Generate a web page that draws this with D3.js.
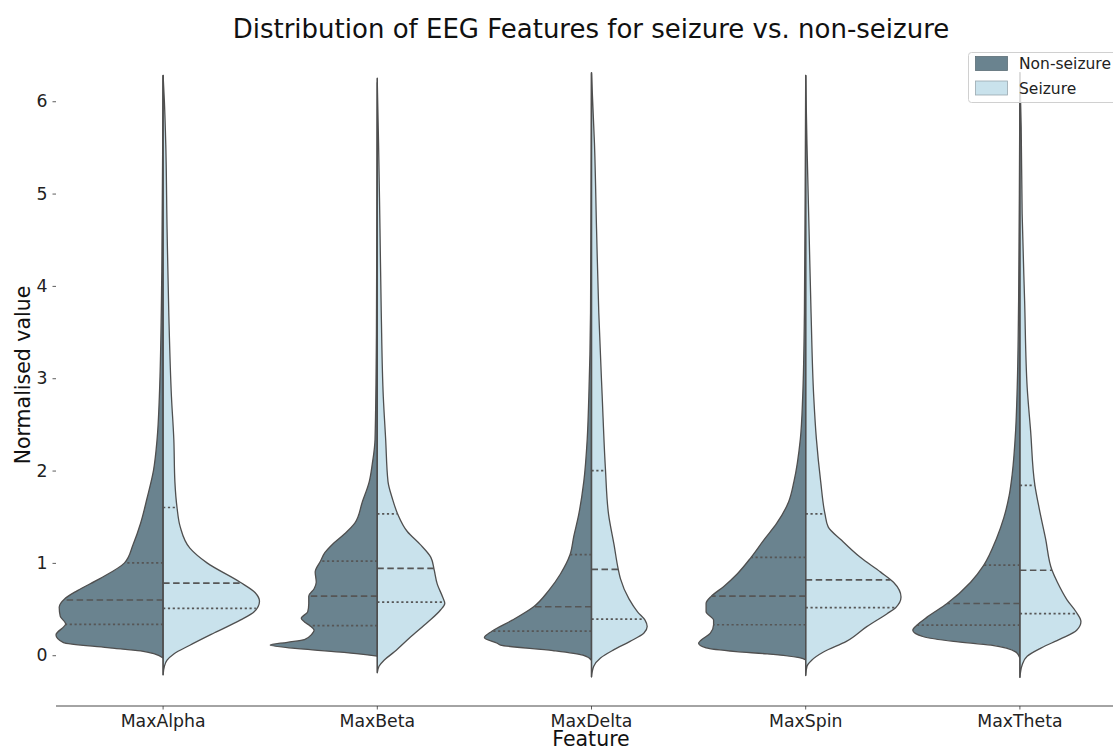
<!DOCTYPE html>
<html>
<head>
<meta charset="utf-8">
<script src="https://cdn.jsdelivr.net/npm/d3@7"></script>
<style>
  html, body { margin: 0; padding: 0; background: #fff; }
  svg { display: block; font-family: "DejaVu Sans", sans-serif; }
</style>
</head>
<body>
<svg id="chart" width="1113" height="749"></svg>
<script>
// Features on the x axis
const features = ["MaxAlpha", "MaxBeta", "MaxDelta", "MaxSpin", "MaxTheta"];
const groups = ["Non-seizure", "Seizure"];
const yTicks = [0, 1, 2, 3, 4, 5, 6];

// Kernel density profiles: [normalised value, relative density] (1 = widest half-violin)
const alphaNonSeizure = [[-0.03,0],[0.014,0.08],[0.046,0.21],[0.082,0.52],[0.137,0.93],[0.22,1.0],[0.34,0.91],[0.42,0.96],[0.52,0.97],[0.61,0.92],[0.70,0.80],[0.83,0.59],[1.0,0.36],[1.2,0.28],[1.43,0.21],[1.7,0.15],[2.0,0.09],[2.34,0.056],[2.8,0.035],[4.16,0.012],[5.5,0.004],[6.28,0]];
const alphaSeizure = [[-0.213,0],[-0.12,0.012],[-0.054,0.037],[0.014,0.10],[0.108,0.25],[0.243,0.48],[0.38,0.72],[0.47,0.85],[0.585,0.90],[0.676,0.86],[0.79,0.72],[1.0,0.41],[1.16,0.25],[1.39,0.16],[1.6,0.13],[1.88,0.11],[2.34,0.10],[2.8,0.078],[3.71,0.053],[4.62,0.037],[5.53,0.025],[6.0,0.012],[6.28,0]];
const betaNonSeizure = [[-0.01,0],[0.03,0.31],[0.065,0.68],[0.11,1.0],[0.14,0.84],[0.17,0.68],[0.23,0.61],[0.27,0.59],[0.32,0.63],[0.36,0.68],[0.40,0.71],[0.47,0.65],[0.56,0.64],[0.64,0.64],[0.72,0.59],[0.79,0.57],[0.90,0.58],[1.02,0.53],[1.11,0.49],[1.20,0.42],[1.31,0.31],[1.43,0.21],[1.66,0.14],[1.88,0.075],[2.07,0.047],[2.34,0.021],[3.5,0.008],[6.25,0]];
const betaSeizure = [[-0.19,0],[-0.12,0.016],[-0.054,0.063],[0.037,0.16],[0.197,0.31],[0.357,0.47],[0.49,0.59],[0.56,0.63],[0.63,0.61],[0.77,0.56],[0.93,0.53],[1.06,0.50],[1.20,0.40],[1.34,0.28],[1.53,0.19],[1.70,0.14],[1.88,0.10],[2.34,0.078],[2.8,0.056],[3.71,0.037],[4.62,0.025],[5.53,0.012],[6.2,0]];
const deltaNonSeizure = [[-0.054,0],[0.0,0.08],[0.05,0.36],[0.11,0.85],[0.13,0.88],[0.19,1.0],[0.26,0.93],[0.38,0.74],[0.525,0.54],[0.70,0.40],[0.88,0.29],[1.09,0.20],[1.29,0.165],[1.52,0.12],[1.88,0.072],[2.34,0.04],[2.8,0.025],[3.71,0.009],[5.0,0.004],[6.31,0]];
const deltaSeizure = [[-0.236,0],[-0.12,0.021],[-0.03,0.084],[0.06,0.21],[0.15,0.36],[0.24,0.49],[0.31,0.52],[0.38,0.50],[0.47,0.43],[0.61,0.35],[0.83,0.27],[0.93,0.25],[1.20,0.21],[1.52,0.16],[2.02,0.13],[2.8,0.10],[3.71,0.068],[4.62,0.047],[5.53,0.028],[6.3,0]];
const spinNonSeizure = [[-0.05,0],[-0.03,0.05],[0.014,0.36],[0.04,0.65],[0.08,0.93],[0.13,1.0],[0.16,0.98],[0.24,0.89],[0.33,0.86],[0.38,0.86],[0.47,0.93],[0.56,0.93],[0.64,0.88],[0.74,0.77],[0.88,0.64],[1.06,0.51],[1.25,0.39],[1.43,0.27],[1.66,0.16],[1.88,0.11],[2.34,0.05],[2.8,0.028],[3.71,0.012],[5.0,0.005],[6.28,0]];
const spinSeizure = [[-0.22,0],[-0.12,0.012],[-0.054,0.056],[0.037,0.17],[0.15,0.38],[0.31,0.57],[0.45,0.76],[0.515,0.84],[0.63,0.89],[0.79,0.82],[0.90,0.70],[1.06,0.51],[1.25,0.33],[1.39,0.21],[1.53,0.18],[1.88,0.14],[2.34,0.10],[2.8,0.075],[3.71,0.05],[4.62,0.031],[5.53,0.012],[6.28,0]];
const thetaNonSeizure = [[-0.03,0],[0.036,0.04],[0.11,0.27],[0.15,0.62],[0.20,0.90],[0.27,1.0],[0.327,0.96],[0.41,0.87],[0.56,0.68],[0.79,0.46],[0.97,0.34],[1.26,0.22],[1.49,0.15],[1.73,0.10],[1.96,0.072],[2.43,0.04],[2.9,0.025],[3.84,0.012],[5.0,0.005],[6.31,0]];
const thetaSeizure = [[-0.24,0],[-0.105,0.021],[-0.01,0.068],[0.08,0.20],[0.177,0.38],[0.27,0.53],[0.365,0.57],[0.46,0.53],[0.60,0.44],[0.79,0.35],[0.92,0.30],[1.26,0.24],[1.59,0.18],[1.84,0.14],[2.43,0.10],[2.9,0.068],[3.84,0.044],[4.78,0.021],[5.72,0.012],[6.31,0]];

// Quartiles per feature: [Q1, median, Q3]
const nonSeizureQuartiles = [[0.334,0.598,1.0],[0.32,0.64,1.02],[0.26,0.525,1.09],[0.33,0.64,1.06],[0.327,0.56,0.975]];
const seizureQuartiles = [[0.507,0.78,1.60],[0.575,0.94,1.53],[0.39,0.93,2.0],[0.515,0.817,1.53],[0.45,0.92,1.84]];

const nonSeizureDensity = [alphaNonSeizure, betaNonSeizure, deltaNonSeizure, spinNonSeizure, thetaNonSeizure];
const seizureDensity = [alphaSeizure, betaSeizure, deltaSeizure, spinSeizure, thetaSeizure];

const colors = { "Non-seizure": "#6a838f", "Seizure": "#c9e2ec" };
const edge = "#4f4f4f";

const svg = d3.select("#chart");

const x = d3.scaleBand().domain(features).range([56, 56 + 5 * 214.2]).padding(0);
const y = d3.scaleLinear().domain([-0.55, 6.6]).range([706, 706 - 7.15 * 92.33]);
const w = d3.scaleLinear().domain([0, 1]).range([0, x.bandwidth() / 2]);

// Linear lookup of the density at a given value
function densityAt(profile, v) {
  for (let i = 1; i < profile.length; i++) {
    const [v0, d0] = profile[i - 1], [v1, d1] = profile[i];
    if (v >= v0 && v <= v1) return d0 + (d1 - d0) * (v - v0) / (v1 - v0);
  }
  return 0;
}

const plot = svg.append("g");

features.forEach((f, i) => {
  const cx = x(f) + x.bandwidth() / 2;
  const halves = [
    { g: "Non-seizure", dens: nonSeizureDensity[i], q: nonSeizureQuartiles[i], dir: -1 },
    { g: "Seizure", dens: seizureDensity[i], q: seizureQuartiles[i], dir: 1 }
  ];
  halves.forEach(h => {
    const area = d3.area()
      .curve(d3.curveMonotoneY)
      .y(d => y(d[0]))
      .x0(cx)
      .x1(d => cx + h.dir * w(d[1]));
    plot.append("path")
      .datum(h.dens)
      .attr("d", area)
      .attr("fill", colors[h.g])
      .attr("stroke", edge)
      .attr("stroke-width", 1.3)
      .attr("stroke-linejoin", "round");

    // Quartile lines: dotted Q1/Q3, dashed median
    h.q.forEach((qv, k) => {
      const len = w(densityAt(h.dens, qv));
      plot.append("line")
        .attr("x1", cx).attr("x2", cx + h.dir * len)
        .attr("y1", y(qv)).attr("y2", y(qv))
        .attr("stroke", "#565656")
        .attr("stroke-width", 1.7)
        .attr("stroke-dasharray", k === 1 ? "6.5,3.5" : "2.2,2.6");
    });
  });
  // Centre line between halves
  const top = Math.max(d3.max(halves[0].dens, d => d[0]), d3.max(halves[1].dens, d => d[0]));
  const bottom = Math.min(halves[0].dens[0][0], halves[1].dens[0][0]);
  plot.append("line")
    .attr("x1", cx).attr("x2", cx)
    .attr("y1", y(bottom)).attr("y2", y(top))
    .attr("stroke", edge).attr("stroke-width", 1.3);
});

// Y axis (no spine)
const yAxis = d3.axisLeft(y).tickValues(yTicks).tickSize(3.5).tickPadding(5).tickFormat(d3.format("d"));
const yg = svg.append("g").attr("transform", "translate(56,0)").call(yAxis);
yg.select(".domain").remove();
yg.selectAll(".tick line").attr("stroke", "#333").attr("stroke-width", 0.8);
yg.selectAll(".tick text").attr("font-size", 17.3).attr("fill", "#222").attr("font-family", "DejaVu Sans");

// X axis with bottom spine
const xAxis = d3.axisBottom(x).tickSize(3.5).tickPadding(5);
const xg = svg.append("g").attr("transform", "translate(0,706)").call(xAxis);
xg.select(".domain").attr("stroke", "#333").attr("stroke-width", 0.9).attr("d", "M56,0H1127");
xg.selectAll(".tick line").attr("stroke", "#333").attr("stroke-width", 0.8);
xg.selectAll(".tick text").attr("font-size", 17.3).attr("fill", "#222").attr("font-family", "DejaVu Sans");

// Titles
svg.append("text").attr("x", 591).attr("y", 38).attr("text-anchor", "middle")
  .attr("font-size", 26).attr("fill", "#111")
  .text("Distribution of EEG Features for seizure vs. non-seizure");
svg.append("text").attr("x", 591).attr("y", 746).attr("text-anchor", "middle")
  .attr("font-size", 20.5).attr("fill", "#111").text("Feature");
svg.append("text").attr("transform", "translate(30,375) rotate(-90)").attr("text-anchor", "middle")
  .attr("font-size", 20.5).attr("fill", "#111").text("Normalised value");

// Legend
const lg = svg.append("g");
lg.append("rect").attr("x", 968.5).attr("y", 52.5).attr("width", 160).attr("height", 50)
  .attr("rx", 3).attr("fill", "#fff").attr("fill-opacity", 0.8).attr("stroke", "#d0d0d0");
groups.forEach((g, i) => {
  lg.append("rect").attr("x", 975.5).attr("y", 56.5 + i * 24.5).attr("width", 32).attr("height", 14)
    .attr("fill", colors[g]).attr("stroke", i === 0 ? "#5c6e77" : "#9aa9b0").attr("stroke-width", 0.8);
  lg.append("text").attr("x", 1019).attr("y", 69 + i * 24.5).attr("font-size", 15.5).attr("fill", "#222").text(g);
});
</script>
</body>
</html>
